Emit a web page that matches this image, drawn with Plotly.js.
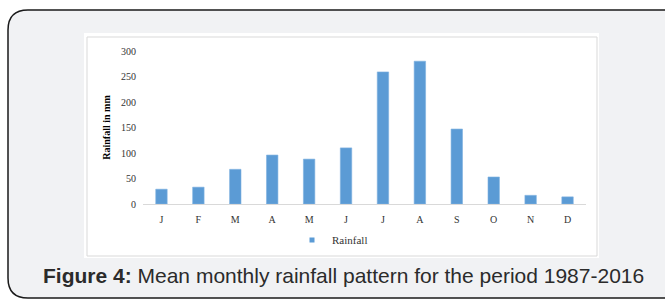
<!DOCTYPE html>
<html>
<head>
<meta charset="utf-8">
<script src="https://cdn.plot.ly/plotly-3.0.1.min.js"></script>
<style>html,body{margin:0;padding:0;background:#fff;}#chart{width:665px;height:300px;}</style>
</head>
<body>
<div id="chart"></div>
<script>
const months = ["J","F","M","A","M","J","J","A","S","O","N","D"];
const rainfall = [29, 33, 68, 96, 88, 110, 259, 280, 147, 53, 17, 14];
const yTicks = [0, 50, 100, 150, 200, 250, 300];
const seriesName = "Rainfall";
const yTitle = "<b>Rainfall in mm</b>";
const caption = "<b>Figure 4:</b> Mean monthly rainfall pattern for the period 1987-2016";

const W = 665, H = 300;
const L = 143, R = 586, T = 51, B = 204;
const px = x => (x - L) / (R - L);
const py = y => (B - y) / (B - T);

function roundedPath(x0, y0, x1, y1, r) {
  const p = (x, y) => px(x) + "," + py(y);
  return "M" + p(x0 + r, y0) + " L" + p(x1 - r, y0) + " Q" + p(x1, y0) + " " + p(x1, y0 + r) +
    " L" + p(x1, y1 - r) + " Q" + p(x1, y1) + " " + p(x1 - r, y1) +
    " L" + p(x0 + r, y1) + " Q" + p(x0, y1) + " " + p(x0, y1 - r) +
    " L" + p(x0, y0 + r) + " Q" + p(x0, y0) + " " + p(x0 + r, y0) + " Z";
}

const barTrace = {
  type: "bar",
  x: months.map((m, i) => i),
  y: rainfall,
  name: seriesName,
  marker: {color: "#5b9bd5", line: {color: "#7fb2e0", width: 0.6}},
  showlegend: false,
  hoverinfo: "y"
};
const legendTrace = {
  type: "scatter", mode: "markers",
  x: [null], y: [null],
  name: seriesName,
  marker: {symbol: "square", size: 5, color: "#5b9bd5"},
  showlegend: true
};

const layout = {
  width: W, height: H,
  margin: {l: L, r: W - R, t: T, b: H - B},
  paper_bgcolor: "#ffffff",
  plot_bgcolor: "rgba(0,0,0,0)",
  bargap: 0.69,
  font: {family: "Liberation Serif, Times New Roman, serif", size: 10, color: "#404040"},
  xaxis: {
    range: [-0.5, 11.5],
    tickmode: "array",
    tickvals: months.map((m, i) => i),
    ticktext: months,
    showline: true, linecolor: "#d9d9d9", linewidth: 1,
    showgrid: false, zeroline: false, ticks: "",
    ticklabelstandoff: 6,
    tickfont: {family: "Liberation Serif, serif", size: 10, color: "#333"},
    fixedrange: true
  },
  yaxis: {
    range: [0, 300],
    tickmode: "array",
    tickvals: yTicks,
    showline: false, showgrid: false, zeroline: false, ticks: "",
    ticklabelstandoff: 6,
    tickfont: {family: "Liberation Serif, serif", size: 10, color: "#333"},
    title: {text: yTitle, font: {family: "Liberation Serif, serif", size: 10, color: "#000"}, standoff: 8},
    fixedrange: true
  },
  showlegend: true,
  legend: {
    orientation: "h", x: px(292), xanchor: "left", y: py(240), yanchor: "middle",
    font: {family: "Liberation Serif, serif", size: 11, color: "#333"},
    itemwidth: 30, bgcolor: "rgba(0,0,0,0)"
  },
  shapes: [
    {type: "path", xref: "paper", yref: "paper", layer: "below",
     path: roundedPath(8, 10, 684, 298, 20),
     fillcolor: "#f1f2f4", line: {color: "#1a1a1a", width: 1.5}},
    {type: "rect", xref: "paper", yref: "paper", layer: "below",
     x0: px(84), x1: px(599), y0: py(258), y1: py(33),
     fillcolor: "#ffffff", line: {width: 0}},
    {type: "rect", xref: "paper", yref: "paper", layer: "below",
     x0: px(87), x1: px(597), y0: py(256), y1: py(37),
     fillcolor: "#ffffff", line: {color: "#d9d9d9", width: 1}}
  ],
  annotations: [
    {text: caption, xref: "paper", yref: "paper", x: px(41), y: py(275),
     xanchor: "left", yanchor: "middle", showarrow: false,
     font: {family: "Liberation Sans, Arial, sans-serif", size: 21, color: "#2b2b2b"}}
  ]
};

Plotly.newPlot("chart", [barTrace, legendTrace], layout, {displayModeBar: false, staticPlot: true});
</script>
</body>
</html>
